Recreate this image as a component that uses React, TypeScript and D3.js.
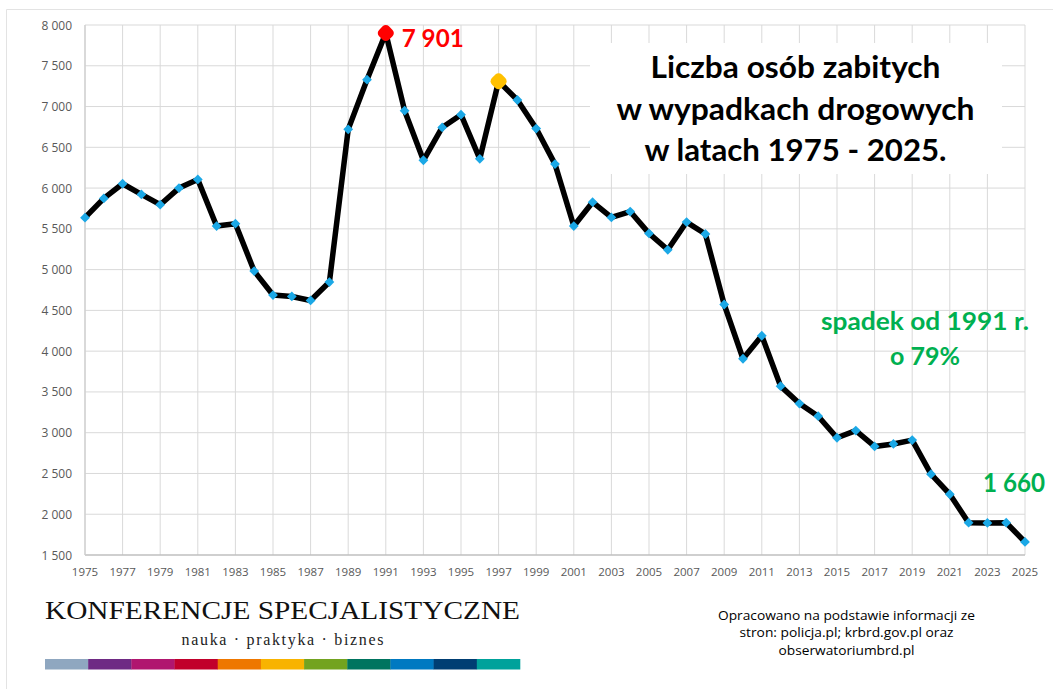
import React from "react";
import * as d3 from "d3";

const years: number[] = d3.range(1975, 2026);
const killed: number[] = [
  5637, 5873, 6053, 5922, 5796, 6000, 6106, 5534, 5563, 4982,
  4688, 4671, 4622, 4847, 6720, 7329, 7901, 6949, 6341, 6744,
  6900, 6359, 7310, 7080, 6730, 6294, 5534, 5827, 5640, 5712,
  5444, 5243, 5583, 5437, 4572, 3907, 4189, 3571, 3357, 3202,
  2938, 3026, 2831, 2862, 2909, 2491, 2245, 1896, 1893, 1896,
  1660,
];
const yTicks: number[] = [1500, 2000, 2500, 3000, 3500, 4000, 4500, 5000, 5500, 6000, 6500, 7000, 7500, 8000];
const xTicks: number[] = d3.range(1975, 2026, 2);
const titleLines: string[] = ["Liczba osób zabitych", "w wypadkach drogowych", "w latach 1975 - 2025."];
const titleWidths: number[] = [290, 358, 302];
const sourceLines: string[] = [
  "Opracowano na podstawie informacji ze",
  "stron: policja.pl; krbrd.gov.pl oraz",
  "obserwatoriumbrd.pl",
];
const sourceWidths: number[] = [257, 214, 136];
const logoColors: string[] = [
  "#8fa7c0", "#6e2a84", "#b0166f", "#c1002b", "#ee7700", "#f8b300",
  "#73a320", "#00745f", "#0079c1", "#003e73", "#00a29b",
];
const peakYear = 1991;
const secondYear = 1997;

const W = 1053;
const H = 689;
const fmt = (v: number) => d3.format(",")(v).replace(/,/g, " ");

export default function App() {
  const x = d3.scaleLinear().domain([1975, 2025]).range([85, 1025]);
  const y = d3.scaleLinear().domain([1500, 8000]).range([555, 25]);
  const pts: [number, number][] = years.map((yr, i) => [x(yr), y(killed[i])]);
  const line = d3.line().curve(d3.curveLinear)(pts) || "";
  const diamond = d3.symbol().type(d3.symbolSquare).size(48)() || "";
  const big = (cx: number, cy: number, fill: string) => (
    <rect x={cx - 7} y={cy - 7} width={14} height={14} rx={4.5} fill={fill}
      transform={`rotate(45 ${cx} ${cy})`} />
  );
  const pIdx = years.indexOf(peakYear);
  const sIdx = years.indexOf(secondYear);
  const segW = 475 / logoColors.length;
  const sans = "'Open Sans', 'Liberation Sans', sans-serif";
  const bold = "Lato, 'Open Sans', sans-serif";

  return (
    <svg width={W} height={H} style={{ position: "absolute", left: 0, top: 0, background: "#fff" }}>
      <rect x={0} y={0} width={W} height={H} fill="#fff" />
      <line x1={6.5} x2={W} y1={9.5} y2={9.5} stroke="#e3e3e3" />
      <line x1={6.5} x2={6.5} y1={9.5} y2={H} stroke="#e3e3e3" />
      {yTicks.map((t) => (
        <g key={"y" + t}>
          {t !== 1500 && (
            <line x1={x(1975)} x2={x(2025)} y1={y(t)} y2={y(t)} stroke="#d9d9d9" strokeWidth={1} />
          )}
          <text x={72} y={y(t) + 4.5} textAnchor="end" fontFamily={sans} fontSize={12} fill="#595959">
            {fmt(t)}
          </text>
        </g>
      ))}
      {xTicks.map((t) => (
        <g key={"x" + t}>
          <line x1={x(t)} x2={x(t)} y1={y(8000)} y2={y(1500)} stroke="#d9d9d9" strokeWidth={1} />
          <text x={x(t)} y={576} textAnchor="middle" fontFamily={sans} fontSize={11.5} fill="#595959">
            {t}
          </text>
        </g>
      ))}
      <line x1={x(1975)} x2={x(2025)} y1={y(1500)} y2={y(1500)} stroke="#bfbfbf" strokeWidth={1.3} />
      <line x1={x(1975)} x2={x(1975)} y1={y(8000)} y2={y(1500)} stroke="#d0d0d0" strokeWidth={1.3} />

      <rect x={590} y={43} width={412} height={131} fill="#fff" />
      {titleLines.map((s, i) => (
        <text key={s} x={795.5} y={78 + i * 41.5} textAnchor="middle" fontFamily={bold}
          fontWeight={700} fontSize={31} fill="#000" textLength={titleWidths[i]}
          lengthAdjust="spacingAndGlyphs">
          {s}
        </text>
      ))}

      <path d={line} fill="none" stroke="#000" strokeWidth={5.5} strokeLinejoin="round" strokeLinecap="round" />
      {pts.map(([px, py], i) =>
        i === pIdx || i === sIdx ? null : (
          <path key={i} d={diamond} transform={`translate(${px},${py}) rotate(45)`} fill="#1ba8e6" />
        )
      )}
      {big(pts[pIdx][0], pts[pIdx][1], "#ff0000")}
      {big(pts[sIdx][0], pts[sIdx][1], "#ffc000")}

      <text x={401.7} y={47} fontFamily={bold} fontWeight={700} fontSize={25} fill="#ff0000"
        textLength={62} lengthAdjust="spacingAndGlyphs">
        {fmt(killed[pIdx])}
      </text>
      <text x={925} y={330} textAnchor="middle" fontFamily={bold} fontWeight={700} fontSize={24}
        fill="#00b050" textLength={208} lengthAdjust="spacingAndGlyphs">
        spadek od 1991 r.
      </text>
      <text x={925} y={365} textAnchor="middle" fontFamily={bold} fontWeight={700} fontSize={24}
        fill="#00b050" textLength={70} lengthAdjust="spacingAndGlyphs">
        o 79%
      </text>
      <text x={1014} y={492} textAnchor="middle" fontFamily={bold} fontWeight={700} fontSize={26}
        fill="#00b050" textLength={62} lengthAdjust="spacingAndGlyphs">
        {fmt(killed[killed.length - 1])}
      </text>

      <text x={45} y={618.5} fontFamily="'Liberation Serif', 'DejaVu Serif', serif" fontSize={26}
        fill="#111" textLength={475} lengthAdjust="spacingAndGlyphs">
        KONFERENCJE SPECJALISTYCZNE
      </text>
      <text x={282.5} y={645} textAnchor="middle" fontFamily="'Liberation Serif', 'DejaVu Serif', serif"
        fontSize={16} fill="#222" textLength={202} lengthAdjust="spacing">
        nauka · praktyka · biznes
      </text>
      {logoColors.map((c, i) => (
        <rect key={c} x={45 + i * segW} y={659} width={segW + 0.3} height={10.5} fill={c} />
      ))}

      {sourceLines.map((s, i) => (
        <text key={s} x={846.5} y={619.5 + i * 17.7} textAnchor="middle" fontFamily={sans}
          fontSize={13} fill="#000" textLength={sourceWidths[i]} lengthAdjust="spacingAndGlyphs">
          {s}
        </text>
      ))}
    </svg>
  );
}
